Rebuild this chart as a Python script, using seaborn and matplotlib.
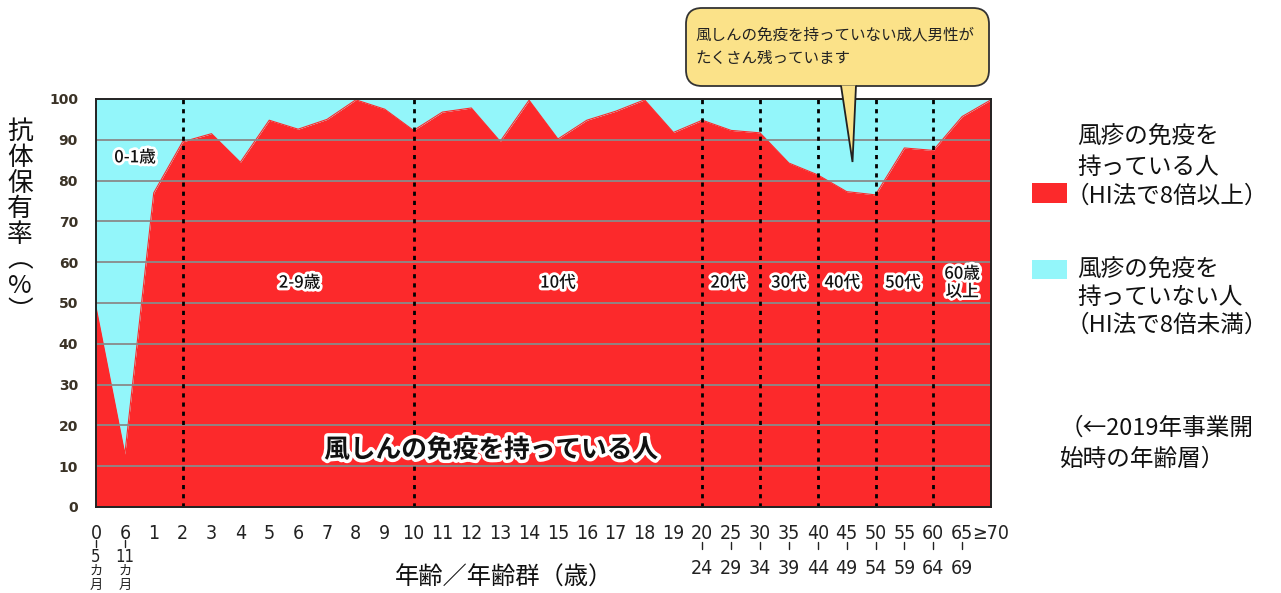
import numpy as np
import pandas as pd
import matplotlib
matplotlib.use("Agg")
import matplotlib.pyplot as plt
import matplotlib.transforms as mtransforms
from matplotlib import font_manager
from matplotlib.patches import FancyBboxPatch, Polygon, Rectangle
import matplotlib.patheffects as pe
import seaborn as sns

# ---------------- data ----------------
top_labels = ["0", "6"] + [str(a) for a in range(1, 20)] + \
             ["20", "25", "30", "35", "40", "45", "50", "55", "60", "65", "≥70"]
range_ends = ["24", "29", "34", "39", "44", "49", "54", "59", "64", "69"]
month_ends = ["5", "11"]
rate = [49, 13, 77, 89.5, 91.5, 84.5, 94.8, 92.6, 95.0, 99.8, 97.5, 92.3,
        96.8, 97.8, 89.6, 99.7, 90.2, 94.8, 97.0, 99.8, 91.8,
        94.8, 92.3, 91.7, 84.3, 81.4, 77.3, 76.5, 88.0, 87.4, 95.7, 99.8]
group_bounds = [3, 11, 21, 23, 25, 27, 29]
group_names = ["0-1歳", "2-9歳", "10代", "20代", "30代", "40代", "50代", "60歳\n以上"]
group_pos = [(1.35, 85.7), (7.05, 55), (16.0, 55), (21.9, 55), (24.0, 55),
             (25.85, 55), (27.95, 55), (30.0, 55)]

df = pd.DataFrame({"idx": np.arange(len(rate)), "rate": rate})

RED = "#FC292B"
CYAN = "#93F6FA"

sns.set_theme(style="white")
avail = {f.name for f in font_manager.fontManager.ttflist}
narrow = "Liberation Sans Narrow" if "Liberation Sans Narrow" in avail else "DejaVu Sans"
plt.rcParams["font.family"] = ["Noto Sans CJK JP", "DejaVu Sans"]

W, H = 1281, 593
fig = plt.figure(figsize=(W / 100, H / 100), dpi=100)
fig.patch.set_facecolor("white")
L, R, T, B = 96, 991, 99, 507
ax = fig.add_axes([L / W, 1 - B / H, (R - L) / W, (B - T) / H])
# pixel (top-left origin) transform
PX = mtransforms.Affine2D().scale(1 / 100, -1 / 100).translate(0, H / 100) + fig.dpi_scale_trans

ax.fill_between(df["idx"], 0, df["rate"], color=RED, lw=0, zorder=1)
ax.fill_between(df["idx"], df["rate"], 100, color=CYAN, lw=0, zorder=1)
sns.lineplot(data=df, x="idx", y="rate", color=RED, lw=0.8, ax=ax, zorder=1.5)

ax.set_xlim(0, len(rate) - 1)
ax.set_ylim(0, 100)
ax.set_yticks(np.arange(0, 101, 10))
ax.grid(False)
for yv in np.arange(10, 100, 10):
    ax.axhline(yv, color="#8a8a8a", lw=1.3, zorder=2)
for xb in group_bounds:
    ax.plot([xb, xb], [0, 100], color="black", lw=2, ls=(0, (1.5, 1.8)), zorder=3)

for s in ax.spines.values():
    s.set_color("#222222")
    s.set_linewidth(1.4)
    s.set_zorder(4)

ax.tick_params(axis="y", length=0, pad=13, labelsize=10, labelcolor="#3a3226")
for lab in ax.get_yticklabels():
    lab.set_fontweight("bold")
    lab.set_family("DejaVu Sans")

ax.set_xticks(df["idx"])
ax.set_xticklabels(top_labels, family=[narrow, "Noto Sans CJK JP"], fontsize=14,
                   fontstretch="condensed")
ax.tick_params(axis="x", length=0, pad=12)
ax.set_xticks(group_bounds, minor=True)
ax.tick_params(axis="x", which="minor", direction="in", length=5, color="black", width=1)
ax.set_xlabel("")
ax.set_ylabel("")

# secondary x labels
bt = mtransforms.blended_transform_factory(ax.transData, PX)
for i, e in enumerate(range_ends):
    xi = 21 + i
    ax.plot([xi, xi], [542, 549], transform=bt, color="#222", lw=1, clip_on=False)
    ax.text(xi, 568, e, transform=bt, ha="center", va="center", fontsize=14,
            family=[narrow], fontstretch="condensed", color="#222")
for i, e in enumerate(month_ends):
    ax.plot([i, i], [540, 547], transform=bt, color="#222", lw=1, clip_on=False)
    ax.text(i, 557, e, transform=bt, ha="center", va="center", fontsize=12,
            family=[narrow], fontstretch="condensed", color="#222")
    ax.text(i, 571, "カ", transform=bt, ha="center", va="center", fontsize=9.5, color="#222")
    ax.text(i, 585, "月", transform=bt, ha="center", va="center", fontsize=9.5, color="#222")
for lab in ax.get_xticklabels():
    lab.set_color("#222")

# axis titles
fig.text(504, 578, "年齢／年齢群（歳）", transform=PX, ha="center", va="center",
         fontsize=17.5, color="#111")
fig.text(20, 222, "抗\n体\n保\n有\n率\n︵\n%\n︶", transform=PX, ha="center", va="center",
         fontsize=18.5, linespacing=0.98, color="#111")

# group labels with white outline
stroke = [pe.withStroke(linewidth=4, foreground="white")]
for name, (gx, gy) in zip(group_names, group_pos):
    ax.text(gx, gy, name, ha="center", va="center", fontsize=12, fontweight="medium",
            color="#111", path_effects=stroke, zorder=6, linespacing=1.0)
ax.text(13.7, 14, "風しんの免疫を持っている人", ha="center", va="center", fontsize=18.5,
        fontweight="bold", color="#111",
        path_effects=[pe.withStroke(linewidth=5, foreground="white")], zorder=6)

# callout
box = FancyBboxPatch((686, 8), 303, 78, boxstyle="round,pad=0,rounding_size=16",
                     transform=PX, facecolor="#FBE289", edgecolor="#333", lw=1.3, zorder=10)
fig.patches.append(box)
ptr = Polygon([(841, 85.5), (852.5, 162), (856, 85.5)], closed=False, transform=PX,
              facecolor="#FBE289", edgecolor="#222", lw=1.3, zorder=11)
fig.patches.append(ptr)
fig.text(695, 35, "風しんの免疫を持っていない成人男性が", transform=PX, ha="left", va="center",
         fontsize=11.2, color="#222", zorder=12)
fig.text(695, 58, "たくさん残っています", transform=PX, ha="left", va="center",
         fontsize=11.2, color="#222", zorder=12)

# legend
fig.patches.append(Rectangle((1032, 183), 35, 20, transform=PX, facecolor=RED, lw=0))
fig.patches.append(Rectangle((1032, 260), 35, 19, transform=PX, facecolor=CYAN, lw=0))
leg_lines = [(1077, 137, "風疹の免疫を"), (1077, 167, "持っている人"), (1066, 196, "（HI法で8倍以上）"),
             (1077, 270, "風疹の免疫を"), (1077, 298, "持っていない人"), (1066, 325, "（HI法で8倍未満）"),
             (1060, 428, "（←2019年事業開"), (1060, 459, "始時の年齢層）")]
for lx, ly, s in leg_lines:
    fig.text(lx, ly, s, transform=PX, ha="left", va="center", fontsize=17, color="#111",
             family=["Noto Sans CJK JP", "DejaVu Sans"])

fig.savefig("out.png", dpi=100, facecolor="white")
